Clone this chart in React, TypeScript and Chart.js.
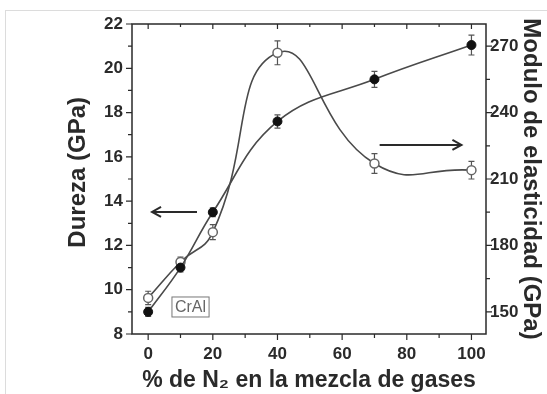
import React, { useEffect, useRef } from 'react';
import { Chart, registerables } from 'chart.js';

Chart.register(...registerables);

// ---- data ----
const nitrogenPct = [0, 10, 20, 40, 70, 100];
const hardness = [9.0, 11.0, 13.5, 17.6, 19.5, 21.05];
const hardnessErr = [0.2, 0.2, 0.2, 0.3, 0.36, 0.45];
const modulus = [156.3, 172.5, 186, 267, 217, 214];
const modulusErr = [3, 2.2, 3.4, 5.4, 4.5, 4];

const xTickValues = [0, 20, 40, 60, 80, 100];
const xMinorValues = [0, 10, 20, 30, 40, 50, 60, 70, 80, 90, 100];
const leftTickValues = [8, 10, 12, 14, 16, 18, 20, 22];
const leftMinorValues = [9, 11, 13, 15, 17, 19, 21];
const rightTickValues = [150, 180, 210, 240, 270];
const rightMinorValues = [165, 195, 225, 255];

const sampleLabel = 'CrAl';
const sampleLabelAt = [13.1, 9.22];
// arrows: [xFrom, xTo, y(left axis units)]
const hardnessArrow = [15.1, 1.2, 13.51];
const modulusArrow = [71.6, 96.9, 16.54];

const xTitle = '% de N\u2082 en la mezcla de gases';
const leftTitle = 'Dureza (GPa)';
const rightTitle = 'Modulo de elasticidad (GPa)';

const INK = '#2a2a2a';
const FONT = "'Liberation Sans', Arial, sans-serif";

const tickMarksPlugin = {
  id: 'tickMarks',
  afterDraw(chart: any) {
    const { ctx, chartArea: a, scales } = chart;
    const x = scales.x, yl = scales.yL, yr = scales.yR;
    ctx.save();
    ctx.strokeStyle = INK;
    ctx.lineWidth = 1.5;
    ctx.strokeRect(a.left, a.top, a.right - a.left, a.bottom - a.top);
    ctx.lineWidth = 1.2;
    ctx.beginPath();
    xMinorValues.forEach((v) => {
      const px = x.getPixelForValue(v);
      const len = xTickValues.includes(v) ? 6 : 4;
      ctx.moveTo(px, a.bottom); ctx.lineTo(px, a.bottom + len);
      ctx.moveTo(px, a.top); ctx.lineTo(px, a.top + len - 1);
    });
    leftTickValues.concat(leftMinorValues).forEach((v) => {
      const py = yl.getPixelForValue(v);
      const len = leftTickValues.includes(v) ? 6 : 4;
      ctx.moveTo(a.left - len, py); ctx.lineTo(a.left, py);
    });
    rightTickValues.concat(rightMinorValues).forEach((v) => {
      const py = yr.getPixelForValue(v);
      const len = rightTickValues.includes(v) ? 6 : 4;
      ctx.moveTo(a.right, py); ctx.lineTo(a.right + len, py);
    });
    ctx.stroke();
    ctx.restore();
  },
};

const errorBarPlugin = {
  id: 'errorBars',
  beforeDatasetsDraw(chart: any) {
    const { ctx } = chart;
    const sets = [
      { idx: 0, err: hardnessErr, vals: hardness, axis: 'yL' },
      { idx: 1, err: modulusErr, vals: modulus, axis: 'yR' },
    ];
    ctx.save();
    ctx.strokeStyle = '#555';
    ctx.lineWidth = 1.2;
    sets.forEach((s) => {
      const meta = chart.getDatasetMeta(s.idx);
      const ys = chart.scales[s.axis];
      meta.data.forEach((pt: any, j: number) => {
        const top = ys.getPixelForValue(s.vals[j] + s.err[j]);
        const bot = ys.getPixelForValue(s.vals[j] - s.err[j]);
        ctx.beginPath();
        ctx.moveTo(pt.x, top); ctx.lineTo(pt.x, bot);
        ctx.moveTo(pt.x - 3, top); ctx.lineTo(pt.x + 3, top);
        ctx.moveTo(pt.x - 3, bot); ctx.lineTo(pt.x + 3, bot);
        ctx.stroke();
      });
    });
    ctx.restore();
  },
};

const annotationPlugin = {
  id: 'annotations',
  afterDraw(chart: any) {
    const { ctx, scales } = chart;
    const x = scales.x, yl = scales.yL;
    ctx.save();
    ctx.strokeStyle = INK;
    ctx.lineWidth = 2;
    const arrow = (def: number[]) => {
      const x0 = x.getPixelForValue(def[0]);
      const x1 = x.getPixelForValue(def[1]);
      const py = yl.getPixelForValue(def[2]);
      const dir = x1 > x0 ? 1 : -1;
      ctx.beginPath();
      ctx.moveTo(x0, py); ctx.lineTo(x1, py);
      ctx.moveTo(x1 - dir * 9, py - 5); ctx.lineTo(x1, py); ctx.lineTo(x1 - dir * 9, py + 5);
      ctx.stroke();
    };
    arrow(hardnessArrow);
    arrow(modulusArrow);
    // sample label box
    const cx = x.getPixelForValue(sampleLabelAt[0]);
    const cy = yl.getPixelForValue(sampleLabelAt[1]);
    ctx.font = `16px ${FONT}`;
    const w = ctx.measureText(sampleLabel).width + 6;
    ctx.lineWidth = 1;
    ctx.strokeStyle = '#777';
    ctx.fillStyle = '#fff';
    ctx.fillRect(cx - w / 2, cy - 10, w, 20);
    ctx.strokeRect(cx - w / 2, cy - 10, w, 20);
    ctx.fillStyle = '#666';
    ctx.textAlign = 'center';
    ctx.textBaseline = 'middle';
    ctx.fillText(sampleLabel, cx, cy + 1);
    ctx.restore();
  },
};

export default function App() {
  const ref = useRef<HTMLCanvasElement>(null);
  useEffect(() => {
    const tickFont = { family: FONT, size: 17, weight: 'bold' as const };
    const titleFont = { family: FONT, size: 23, weight: 'bold' as const };
    const yTitleFont = { family: FONT, size: 24, weight: 'bold' as const };
    const chart = new Chart(ref.current as HTMLCanvasElement, {
      type: 'line',
      data: {
        datasets: [
          {
            label: leftTitle,
            data: nitrogenPct.map((v, i) => ({ x: v, y: hardness[i] })),
            yAxisID: 'yL',
            borderColor: '#4a4a4a',
            borderWidth: 1.6,
            tension: 0.4,
            pointRadius: 4.5,
            pointBackgroundColor: '#111',
            pointBorderColor: '#111',
            pointBorderWidth: 1,
            fill: false,
          },
          {
            label: rightTitle,
            data: nitrogenPct.map((v, i) => ({ x: v, y: modulus[i] })),
            yAxisID: 'yR',
            borderColor: '#4a4a4a',
            borderWidth: 1.6,
            tension: 0.5,
            pointRadius: 4.5,
            pointBackgroundColor: '#fff',
            pointBorderColor: '#666',
            pointBorderWidth: 1.5,
            fill: false,
          },
        ],
      },
      options: {
        responsive: false,
        animation: false,
        devicePixelRatio: 1,
        layout: { padding: { top: 24, left: 0, right: 0, bottom: 0 } },
        plugins: { legend: { display: false }, tooltip: { enabled: false } },
        scales: {
          x: {
            type: 'linear',
            position: 'bottom',
            min: -5,
            max: 104.5,
            afterBuildTicks: (s: any) => { s.ticks = xTickValues.map((v) => ({ value: v })); },
            afterFit: (s: any) => { s.height = 60; },
            ticks: { font: tickFont, color: INK, padding: 10, maxRotation: 0, autoSkip: false },
            grid: { display: false, drawTicks: false },
            border: { display: false },
            title: { display: true, text: xTitle, font: titleFont, color: INK, padding: { top: 0, bottom: 0 } },
          },
          yL: {
            type: 'linear',
            position: 'left',
            min: 8,
            max: 22,
            afterBuildTicks: (s: any) => { s.ticks = leftTickValues.map((v) => ({ value: v })); },
            afterFit: (s: any) => { s.width = 132; },
            ticks: { font: tickFont, color: INK, padding: 9, autoSkip: false },
            grid: { display: false, drawTicks: false },
            border: { display: false },
            title: { display: true, text: '\u00a0\u00a0' + leftTitle, font: yTitleFont, color: INK, padding: { top: 64, bottom: 0 } },
          },
          yR: {
            type: 'linear',
            position: 'right',
            min: 140,
            max: 280,
            afterBuildTicks: (s: any) => { s.ticks = rightTickValues.map((v) => ({ value: v })); },
            afterFit: (s: any) => { s.width = 61; },
            ticks: { font: tickFont, color: INK, padding: 4, autoSkip: false },
            grid: { display: false, drawTicks: false },
            border: { display: false },
            title: { display: true, text: rightTitle, font: yTitleFont, color: INK, padding: { top: 2, bottom: 0 } },
          },
        },
      } as any,
      plugins: [errorBarPlugin, tickMarksPlugin, annotationPlugin],
    });
    return () => chart.destroy();
  }, []);
  return (
    <div style={{ position: 'fixed', left: 0, top: 0, width: 547, height: 394, background: '#fff', overflow: 'hidden' }}>
      <div style={{ position: 'absolute', left: 5, top: 10, right: 0, height: 1, background: '#dcdcdc' }} />
      <div style={{ position: 'absolute', left: 5, top: 10, bottom: 0, width: 1, background: '#dcdcdc' }} />
      <canvas ref={ref} width={547} height={394} style={{ position: 'absolute', left: 0, top: 0, width: 547, height: 394 }} />
    </div>
  );
}
